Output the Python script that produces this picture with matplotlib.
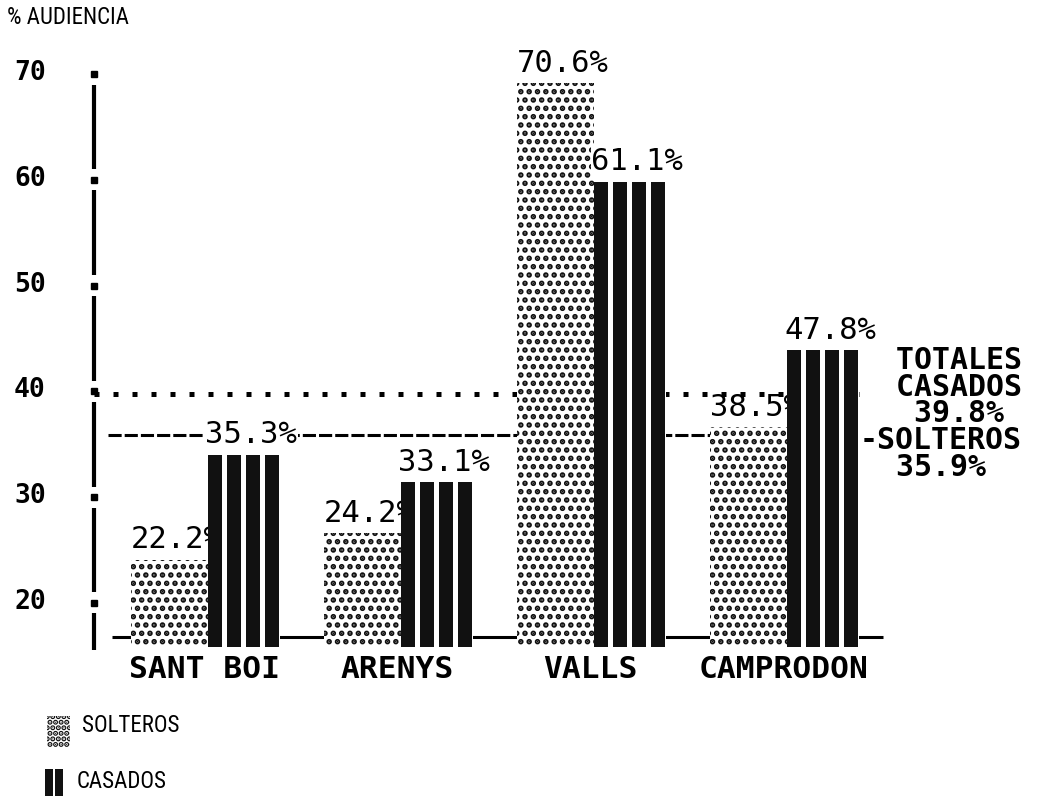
import numpy as np
import matplotlib.pyplot as plt
from matplotlib.patches import Rectangle
import matplotlib.transforms as mtransforms

# datos del grafico (audiencia por localidad)
localidades = ['SANT BOI', 'ARENYS', 'VALLS', 'CAMPRODON']
solteros = [22.2, 24.2, 70.6, 38.5]
casados = [35.3, 33.1, 61.1, 47.8]
# alturas tal como salen dibujadas en el original (no cuadran del todo con las etiquetas)
alto_solteros = [24.1, 26.6, 69.1, 36.6]
alto_casados = [34.0, 31.4, 59.8, 43.9]
total_casados = 39.8
total_solteros = 35.9
marcas_y = [20, 30, 40, 50, 60, 70]

W, H = 1039, 799
fondo = 15.8      # pie de las barras
linea_base = 16.8

plt.rcParams['hatch.linewidth'] = 2.7
mono = 'DejaVu Sans Mono'
# familias estrechas para el titulo y la leyenda (la primera que exista)
estrecha = ['Roboto Condensed', 'DejaVu Sans Condensed', 'Liberation Sans Narrow', 'DejaVu Sans']

fig = plt.figure(figsize=(W / 100, H / 100), dpi=100)
ax = fig.add_axes([0, 0, 1, 1])
ax.set_xlim(-1.078, 4.306)
ax.set_ylim(1.48, 76.99)
ax.axis('off')

x = np.arange(len(localidades))
hs = np.array(alto_solteros)
hc = np.array(alto_casados)

# solteros: barra punteada
ax.bar(x - 0.2, hs - fondo, width=0.4, bottom=fondo, color='white',
       edgecolor='#111111', hatch='..', linewidth=0, zorder=3)
# casados: fondo blanco y cuatro franjas negras
ax.bar(x + 0.186, hc - fondo, width=0.372, bottom=fondo, color='white',
       linewidth=0, zorder=3)
for k in range(4):
    ax.bar(x + 0.0363 + k * 0.0984, hc - fondo, width=0.0725, bottom=fondo,
           color='#111111', linewidth=0, zorder=3)

# linea base y eje vertical
ax.hlines(linea_base, -0.5, 3.5, color='black', lw=2.2, zorder=1)
xe = -0.59
ax.plot([xe] * len(marcas_y), marcas_y, 's', ms=4, color='black', zorder=2)
for a, b in zip(marcas_y[1:], marcas_y[:-1]):
    ax.plot([xe, xe], [a - 1.0, b + 1.0], color='black', lw=3, solid_capstyle='butt')
ax.plot([xe, xe], [marcas_y[0] - 0.9, fondo - 0.2], color='black', lw=3, solid_capstyle='butt')

# lineas de totales
ax.plot([xe, 3.42], [total_casados] * 2, color='black', lw=3.6,
        dashes=(1, 2.8), dash_capstyle='butt', zorder=2)
ax.plot([-0.518, 3.37], [total_solteros] * 2, color='black', lw=2.2,
        dashes=(4.3, 1.0), dash_capstyle='butt', zorder=2)

# etiquetas de valores
for i in x:
    ax.annotate(f'{solteros[i]}%', (i - 0.4, hs[i]), xytext=(0, 4),
                textcoords='offset points', ha='left', va='bottom',
                family=mono, fontsize=22, zorder=2)
    ax.annotate(f'{casados[i]}%', (i, hc[i]), xytext=(-2, 4),
                textcoords='offset points', ha='left', va='bottom',
                family=mono, fontsize=22, zorder=5,
                bbox=dict(fc='white', ec='none', pad=0.5))

# nombres de las localidades
for i, nombre in zip(x, localidades):
    ax.text(i - 0.02, 13.7, nombre, ha='center', va='center', family=mono,
            fontsize=22.5, fontweight='bold')

# etiquetas del eje y
trans = mtransforms.blended_transform_factory(fig.transFigure, ax.transData)
for t in marcas_y:
    ax.text(14 / W, t + 0.1, str(t), transform=trans, ha='left', va='center',
            family=mono, fontsize=19, fontweight='bold')


def px(xp, yp):
    return xp / W, 1 - yp / H


# bloque de totales a la derecha (monoespaciado, alineado por columnas)
bloque = '\n'.join(['  TOTALES',
                    '  CASADOS',
                    f'   {total_casados}%',
                    '-SOLTEROS',
                    f'  {total_solteros}%'])
fig.text(*px(860, 414), bloque, ha='left', va='center', ma='left', family=mono,
         fontsize=21.5, fontweight='bold', linespacing=0.9)

# titulo del eje
fig.text(*px(7, 17), '% AUDIENCIA', ha='left', va='center', family=estrecha,
         fontstretch='condensed', fontsize=16.5)

# leyenda
fig.patches.append(Rectangle(px(47, 747), 23 / W, 31 / H, transform=fig.transFigure,
                             facecolor='white', edgecolor='#111111', hatch='...', linewidth=0))
for xs in (45, 55):
    fig.patches.append(Rectangle(px(xs, 796), 8 / W, 27 / H, transform=fig.transFigure,
                                 facecolor='#111111', linewidth=0))
fig.text(*px(82, 726), 'SOLTEROS', ha='left', va='center', family=estrecha,
         fontstretch='condensed', fontsize=16.5)
fig.text(*px(77, 781), 'CASADOS', ha='left', va='center', family=estrecha,
         fontstretch='condensed', fontsize=16.5)

fig.savefig('out.png', dpi=100, facecolor='white')
